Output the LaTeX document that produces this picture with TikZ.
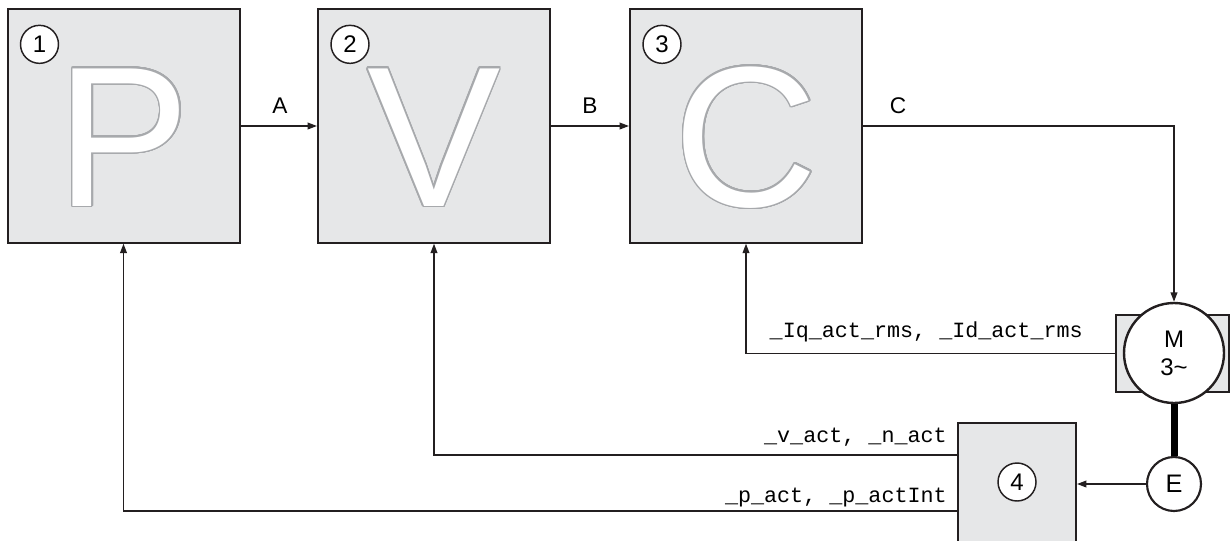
\documentclass[tikz,border=0pt]{standalone}
\usepackage{fontspec}
\setmainfont{Liberation Sans}
\setmonofont{Liberation Mono}
\usepackage[copies]{contour}
\usetikzlibrary{positioning,arrows.meta}
\definecolor{boxgray}{HTML}{E6E7E8}
\definecolor{glyphgray}{HTML}{A7A9AC}
\definecolor{edge}{HTML}{231F20}
\contourlength{1.1pt}
\contournumber{24}

\begin{document}
\begin{tikzpicture}[
    x=0.75pt, y=-0.75pt,
    ctrl/.style={draw=edge, line width=1.5pt, fill=boxgray, minimum width=174pt, minimum height=175pt, inner sep=0pt},
    big/.style={anchor=base, inner sep=0pt, font=\fontsize{150}{150}\selectfont},
    num/.style={circle, draw=edge, line width=1.1pt, fill=white, minimum size=28.5pt, inner sep=0pt, font=\fontsize{18}{18}\selectfont},
    lbl/.style={anchor=base, inner sep=0pt, font=\fontsize{17}{17}\selectfont},
    sig/.style={anchor=base east, inner sep=0pt, font=\ttfamily\fontsize{16.3}{16.3}\selectfont},
    arr/.style={-{Triangle[length=7pt,width=5pt]}, line width=1.1pt, draw=edge}
  ]
  \useasboundingbox (0,0) rectangle (1231,540);

  % Controllers
  \node[ctrl] (pos) at (123.5,126) {};
  \node[ctrl] (vel) at (434,126) {};
  \node[ctrl] (cur) at (746,126) {};
  \node[big] (pchar) at (123.5,206) {\contour{glyphgray}{\textcolor{white}{P}}};
  \node[big] (vchar) at (434,206) {\contour{glyphgray}{\textcolor{white}{V}}};
  \node[big] (cchar) at (746,206) {\contour{glyphgray}{\textcolor{white}{C}}};
  \node[num] (n1) at ([shift={(33,36)}]pos.north west) {1};
  \node[num] (n2) at ([shift={(33,36)}]vel.north west) {2};
  \node[num] (n3) at ([shift={(33,36)}]cur.north west) {3};

  % Motor and encoder
  \node[draw=edge, line width=1.5pt, fill=boxgray, minimum width=84.75pt, minimum height=57.75pt] (frame) at (1172.5,353.5) {};
  \node[circle, draw=edge, line width=1.8pt, fill=white, minimum size=75pt, inner sep=0pt, align=center, font=\fontsize{18}{21}\selectfont] (motor) at (1174,353) {M\\3\textasciitilde};
  \node[circle, draw=edge, line width=1.6pt, fill=white, minimum size=40.5pt, inner sep=0pt, font=\fontsize{19}{19}\selectfont] (enc) at (1174,484) {E};
  \draw[line width=5.25pt, black] (motor.south) -- (enc.north);

  % Feedback block
  \node[ctrl, minimum width=88.5pt, minimum height=102.75pt] (fb) at (1017,491.5) {};
  \node[num] (n4) at (1017,482) {4};

  % Forward path
  \draw[arr] (pos.east) -- (vel.west);
  \draw[arr] (vel.east) -- (cur.west);
  \draw[arr] (cur.east) -| (motor.north);
  \node[lbl] (la) at (280,113) {A};
  \node[lbl] (lb) at (590,113) {B};
  \node[lbl] (lc) at (898,113) {C};

  % Feedback paths
  \coordinate (vtap) at ([shift={(0,33)}]fb.north west);
  \coordinate (ptap) at ([shift={(0,89)}]fb.north west);
  \draw[arr] (frame.west) -| (cur.south);
  \draw[arr] (vtap) -| (vel.south);
  \draw[arr] (ptap) -| (pos.south);
  \draw[arr] (enc.west) -- (enc.west -| fb.east);
  \node[sig] (liq) at (1083,337) {\_Iq\_act\_rms, \_Id\_act\_rms};
  \node[sig] (lv) at (947,442) {\_v\_act, \_n\_act};
  \node[sig] (lp) at (947,502) {\_p\_act, \_p\_actInt};
\end{tikzpicture}
\end{document}
